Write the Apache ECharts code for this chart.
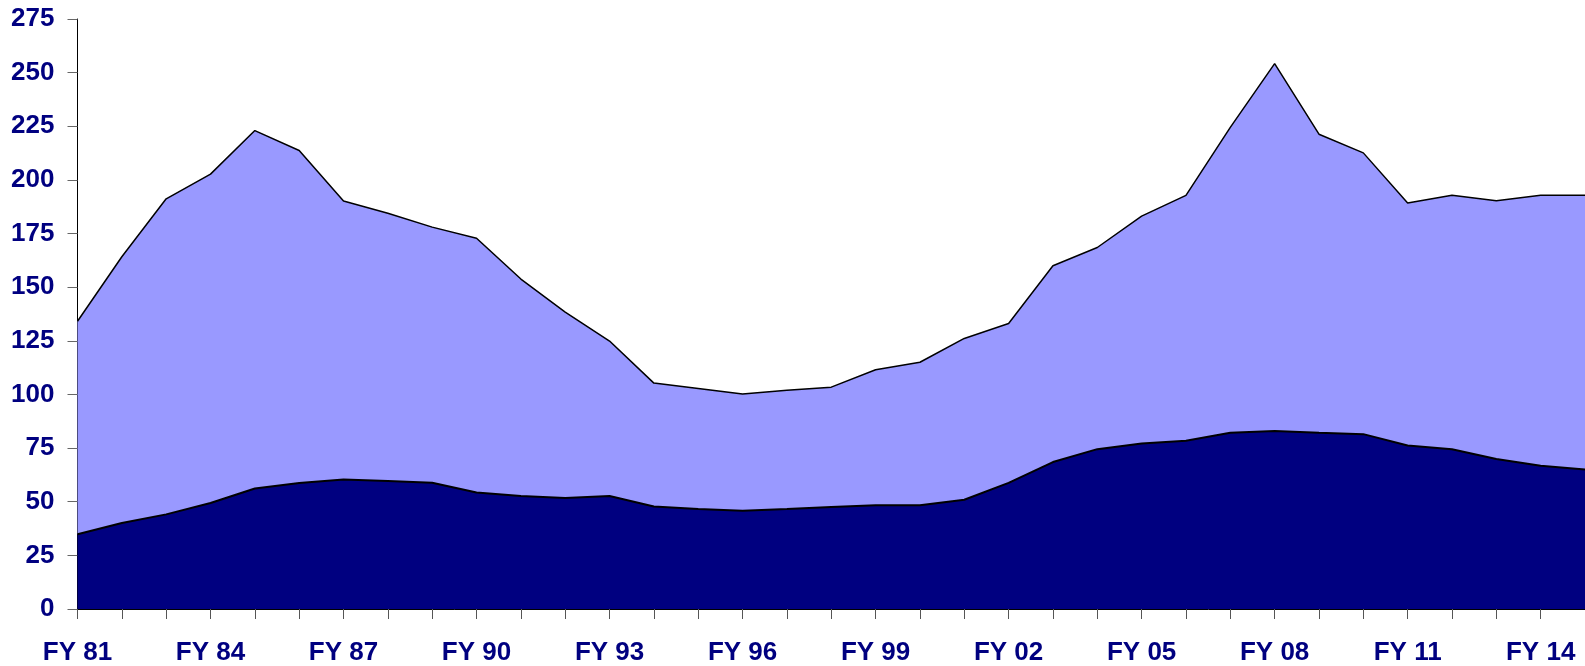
<!DOCTYPE html>
<html>
<head>
<meta charset="utf-8">
<script src="https://cdn.jsdelivr.net/npm/echarts@6/dist/echarts.min.js"></script>
<style>
html,body{margin:0;padding:0;background:#fff;}
#chart{width:1585px;height:666px;}
</style>
</head>
<body>
<div id="chart"></div>
<script>
const categories = ['FY 81','FY 82','FY 83','FY 84','FY 85','FY 86','FY 87','FY 88','FY 89','FY 90',
  'FY 91','FY 92','FY 93','FY 94','FY 95','FY 96','FY 97','FY 98','FY 99','FY 00',
  'FY 01','FY 02','FY 03','FY 04','FY 05','FY 06','FY 07','FY 08','FY 09','FY 10',
  'FY 11','FY 12','FY 13','FY 14','FY 15'];
const lowerSeries = [34.8, 40.1, 44.1, 49.4, 56.2, 58.7, 60.4, 59.7, 58.8, 54.3,
  52.7, 51.7, 52.7, 47.8, 46.6, 45.8, 46.6, 47.6, 48.4, 48.4,
  50.9, 58.8, 68.5, 74.5, 77.1, 78.4, 82.2, 83.0, 82.1, 81.5,
  76.2, 74.5, 69.9, 66.8, 65.0];
const upperSeries = [99.3, 124.1, 147.1, 153.3, 166.8, 155.0, 129.8, 124.8, 119.2, 118.5,
  101.1, 86.7, 72.2, 57.5, 56.2, 54.4, 55.4, 55.8, 63.1, 66.6,
  75.2, 74.3, 91.5, 94.0, 106.0, 114.4, 142.3, 171.2, 139.2, 131.1,
  113.0, 118.3, 120.4, 126.0, 127.8];
const yMin = 0, yMax = 275, yStep = 25;

const font = 'Liberation Sans, Arial, sans-serif';
const chart = echarts.init(document.getElementById('chart'), null, {renderer:'canvas'});
chart.setOption({
  animation: false,
  grid: {left: 77.5, top: 19, bottom: 56.7, right: -3.5, containLabel: false},
  xAxis: {
    type: 'category',
    data: categories,
    boundaryGap: false,
    axisLine: {lineStyle: {color: '#000', width: 1}},
    axisTick: {show: true, interval: 0, length: 10, lineStyle: {color: '#555'}},
    axisLabel: {interval: 2, color: '#000080', fontWeight: 'bold', fontSize: 26, fontFamily: font, margin: 31},
    splitLine: {show: false}
  },
  yAxis: {
    type: 'value',
    min: yMin, max: yMax, interval: yStep,
    axisLine: {show: true, lineStyle: {color: '#000', width: 1}},
    axisTick: {show: true, length: 10, lineStyle: {color: '#666'}},
    axisLabel: {color: '#000080', fontWeight: 'bold', fontSize: 26, fontFamily: font, margin: 23},
    splitLine: {show: false}
  },
  series: [
    {
      type: 'line', stack: 'total', data: lowerSeries, symbol: 'none',
      lineStyle: {color: '#000', width: 2},
      areaStyle: {color: '#000080', opacity: 1},
      z: 2
    },
    {
      type: 'line', stack: 'total', data: upperSeries, symbol: 'none',
      lineStyle: {color: '#000', width: 1.5},
      areaStyle: {color: '#9999FF', opacity: 1},
      z: 1
    }
  ]
});
</script>
</body>
</html>
